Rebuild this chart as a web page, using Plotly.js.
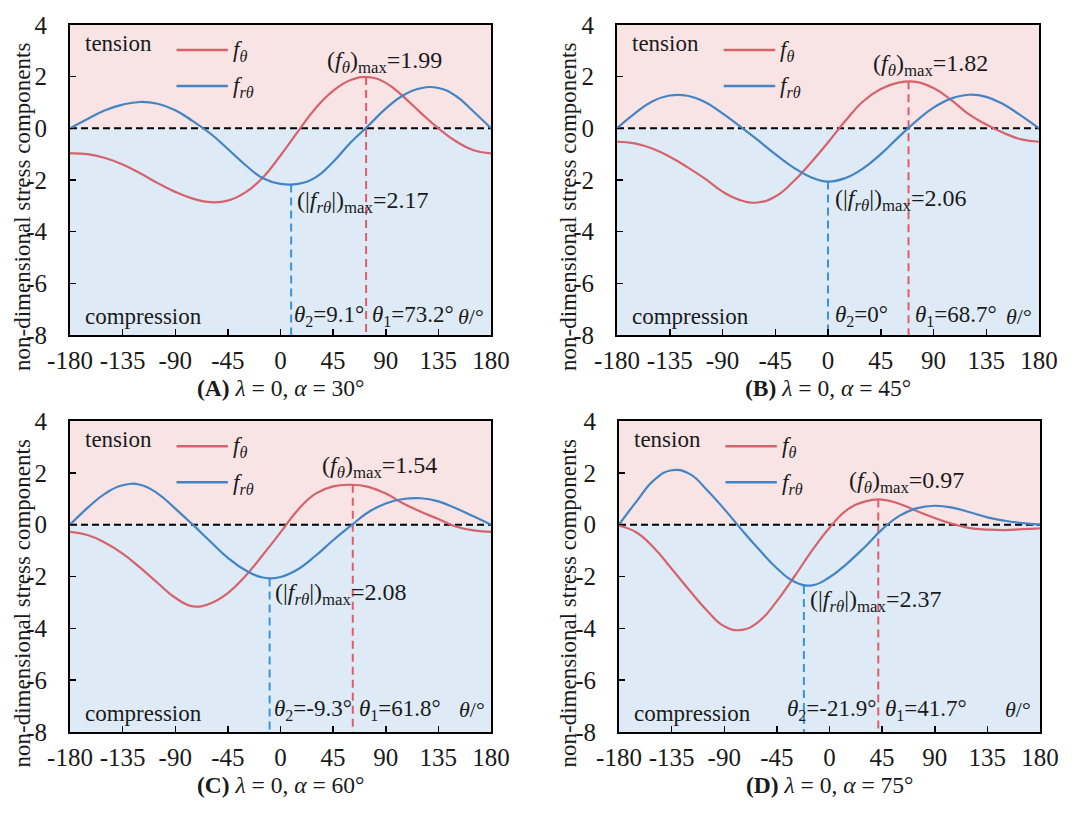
<!DOCTYPE html>
<html>
<head>
<meta charset="utf-8">
<script src="https://cdn.plot.ly/plotly-3.0.1.min.js"></script>
<style>html,body{margin:0;padding:0;background:#fff;}#chart{width:1080px;height:816px;}</style>
</head>
<body>
<div id="chart"></div>
<script>
// ---------------- data ----------------
const theta = [-180,-165,-150,-135,-120,-105,-90,-75,-60,-45,-30,-15,0,15,30,45,60,75,90,105,120,135,150,165,180];
const xTicks = [-180,-135,-90,-45,0,45,90,135,180];
const yTicks = [-8,-6,-4,-2,0,2,4];

const A_ftheta  = [-0.97,-1.0,-1.15,-1.4,-1.74,-2.12,-2.46,-2.72,-2.86,-2.8,-2.48,-1.9,-1.05,-0.12,0.78,1.45,1.87,1.98,1.76,1.23,0.6,0.0,-0.5,-0.85,-0.97];
const A_frtheta = [0,0.36,0.7,0.92,1.02,0.95,0.7,0.28,-0.2,-0.8,-1.42,-1.93,-2.15,-2.15,-1.9,-1.3,-0.55,0.1,0.76,1.28,1.55,1.56,1.25,0.65,0];
const B_ftheta  = [-0.52,-0.58,-0.78,-1.1,-1.5,-1.95,-2.45,-2.78,-2.87,-2.64,-2.08,-1.35,-0.55,0.3,1.05,1.52,1.77,1.8,1.56,1.1,0.55,0.15,-0.18,-0.43,-0.52];
const B_frtheta = [0,0.57,1.04,1.27,1.26,1.02,0.58,0.08,-0.45,-1.0,-1.5,-1.88,-2.06,-1.92,-1.55,-1.0,-0.35,0.27,0.8,1.15,1.3,1.22,0.92,0.48,0];
const C_ftheta  = [-0.28,-0.4,-0.7,-1.12,-1.66,-2.25,-2.82,-3.15,-3.04,-2.64,-1.98,-1.16,-0.3,0.58,1.2,1.48,1.54,1.46,1.2,0.82,0.5,0.22,-0.07,-0.22,-0.28];
const C_frtheta = [0,0.65,1.2,1.52,1.54,1.2,0.62,0.0,-0.65,-1.28,-1.76,-2.04,-2.02,-1.72,-1.2,-0.6,-0.05,0.48,0.82,0.99,1.02,0.9,0.63,0.32,0];
const D_ftheta  = [-0.04,-0.3,-0.9,-1.7,-2.52,-3.3,-3.92,-4.06,-3.72,-2.95,-2.0,-1.0,-0.12,0.57,0.89,0.97,0.8,0.52,0.26,0.03,-0.13,-0.19,-0.21,-0.17,-0.14];
const D_frtheta = [0,0.9,1.72,2.1,1.97,1.35,0.6,-0.2,-0.97,-1.68,-2.2,-2.34,-2.03,-1.5,-0.87,-0.18,0.35,0.64,0.73,0.66,0.48,0.28,0.15,0.06,0];

const panelLetters = ['A','B','C','D'];
const alphas = [30,45,60,75];
const lambdas = [0,0,0,0];
const theta1 = [73.2,68.7,61.8,41.7];
const fthetaMax = [1.99,1.82,1.54,0.97];
const theta2 = [9.1,0,-9.3,-21.9];
const frthetaMax = [2.17,2.06,2.08,2.37];

const fthetaSeries = [A_ftheta,B_ftheta,C_ftheta,D_ftheta];
const frthetaSeries = [A_frtheta,B_frtheta,C_frtheta,D_frtheta];

// ---------------- layout helpers ----------------
const W = 1080, H = 816;
const boxes = [ // plot area pixel boxes [left,right,top,bottom]
  [70,491,25,335],[617,1039,25,335],
  [70,491,421,732],[619,1040,421,732]
];
// label anchor positions (axis coordinates)
const labelPos = [
  {fmax:[38.1,2.57], fr:[12.4,-2.84], t2:[10.2,-7.27], t1:[76.8,-7.27], tu:175.8, low:-7.27},
  {fmax:[36.3,2.45], fr:[3.9,-2.77],  t2:[3.9,-7.27],  t1:[72.3,-7.27], tu:175.7, low:-7.27},
  {fmax:[33.8,2.22], fr:[-6.4,-2.66], t2:[-7.3,-7.15], t1:[65.4,-7.15], tu:176.6, low:-7.15},
  {fmax:[15.0,1.64], fr:[-18.4,-2.93],t2:[-38,-7.15],  t1:[45.8,-7.15], tu:174.0, low:-7.15}
];
const FONT = 'Liberation Serif, Times New Roman, serif';
const TXT = '#1a1a1a';
const RED = 'rgb(214,98,106)';
const BLUE = 'rgb(66,132,196)';
const RED_D = 'rgb(224,92,104)';
const BLUE_D = 'rgb(58,148,218)';
const PINK_BG = 'rgb(249,228,229)';
const BLUE_BG = 'rgb(222,235,247)';

const data = [];
const layout = {
  width: W, height: H,
  margin: {l:0,r:0,t:0,b:0},
  paper_bgcolor: '#ffffff',
  plot_bgcolor: 'rgba(0,0,0,0)',
  showlegend: false,
  font: {family: FONT, size: 23, color: TXT},
  shapes: [], annotations: []
};

for (let i = 0; i < 4; i++) {
  const n = i === 0 ? '' : String(i + 1);
  const xa = 'x' + n, ya = 'y' + n;
  const b = boxes[i];
  layout['xaxis' + n] = {
    domain: [b[0] / W, b[1] / W], anchor: ya,
    range: [-180, 180], tickvals: xTicks, ticktext: xTicks.map(String),
    ticks: 'inside', ticklen: 6, tickwidth: 1.5, tickcolor: '#000',
    showline: true, linecolor: '#000', linewidth: 2, mirror: true,
    showgrid: false, zeroline: false,
    tickfont: {family: FONT, size: 25, color: TXT},
    ticklabelstandoff: 2, fixedrange: true
  };
  layout['yaxis' + n] = {
    domain: [1 - b[3] / H, 1 - b[2] / H], anchor: xa,
    range: [-8, 4], tickvals: yTicks, ticktext: yTicks.map(String),
    ticks: 'inside', ticklen: 6, tickwidth: 1.5, tickcolor: '#000',
    showline: true, linecolor: '#000', linewidth: 2, mirror: true,
    showgrid: false, zeroline: false,
    tickfont: {family: FONT, size: 25, color: TXT},
    ticklabelstandoff: 16, fixedrange: true
  };

  // backgrounds
  layout.shapes.push({type:'rect', xref: xa + ' domain', yref: ya, x0:0, x1:1, y0:0, y1:4, fillcolor: PINK_BG, line:{width:0}, layer:'below'});
  layout.shapes.push({type:'rect', xref: xa + ' domain', yref: ya, x0:0, x1:1, y0:-8, y1:0, fillcolor: BLUE_BG, line:{width:0}, layer:'below'});
  // zero line
  layout.shapes.push({type:'line', xref: xa + ' domain', yref: ya, x0:0, x1:1, y0:0, y1:0, line:{color:'#000', width:2, dash:'7px,4px'}, layer:'below'});
  // legend samples
  layout.shapes.push({type:'line', xref: xa + ' domain', yref: ya + ' domain', x0:0.253, x1:0.375, y0:0.919, y1:0.919, line:{color:RED, width:2.5}});
  layout.shapes.push({type:'line', xref: xa + ' domain', yref: ya + ' domain', x0:0.253, x1:0.375, y0:0.803, y1:0.803, line:{color:BLUE, width:2.5}});

  // vertical dashed markers
  data.push({x:[theta1[i], theta1[i]], y:[fthetaMax[i], -8], xaxis: xa, yaxis: ya, mode:'lines', line:{color:RED_D, width:2, dash:'8px,5px'}, hoverinfo:'skip'});
  data.push({x:[theta2[i], theta2[i]], y:[-frthetaMax[i], -8], xaxis: xa, yaxis: ya, mode:'lines', line:{color:BLUE_D, width:2, dash:'8px,5px'}, hoverinfo:'skip'});
  // curves
  data.push({x: theta, y: fthetaSeries[i], xaxis: xa, yaxis: ya, mode:'lines', name:'f_theta', line:{color:RED, width:2.2, shape:'spline', smoothing:1.3}});
  data.push({x: theta, y: frthetaSeries[i], xaxis: xa, yaxis: ya, mode:'lines', name:'f_rtheta', line:{color:BLUE, width:2.2, shape:'spline', smoothing:1.3}});

  const lp = labelPos[i];
  const ann = (o) => layout.annotations.push(Object.assign({showarrow:false, font:{family:FONT, size:23, color:TXT}}, o));
  ann({xref: xa + ' domain', yref: ya + ' domain', x:0.031, y:0.939, xanchor:'left', yanchor:'middle', text:'tension'});
  ann({xref: xa + ' domain', yref: ya + ' domain', x:0.031, y:0.061, xanchor:'left', yanchor:'middle', text:'compression'});
  ann({xref: xa + ' domain', yref: ya + ' domain', x:0.382, y:0.915, xanchor:'left', yanchor:'middle', text:'<i>f</i><sub><i>θ</i></sub>'});
  ann({xref: xa + ' domain', yref: ya + ' domain', x:0.382, y:0.799, xanchor:'left', yanchor:'middle', text:'<i>f</i><sub><i>rθ</i></sub>'});
  ann({xref: xa, yref: ya, x: lp.fmax[0], y: lp.fmax[1], xanchor:'left', yanchor:'middle', text:'(<i>f</i><sub><i>θ</i></sub>)<sub>max</sub>=' + fthetaMax[i].toFixed(2), font:{family:FONT, size:24, color:TXT}});
  ann({xref: xa, yref: ya, x: lp.fr[0], y: lp.fr[1], xanchor:'left', yanchor:'middle', text:'(|<i>f</i><sub><i>rθ</i></sub>|)<sub>max</sub>=' + frthetaMax[i].toFixed(2), font:{family:FONT, size:24, color:TXT}});
  ann({xref: xa, yref: ya, x: lp.t2[0], y: lp.t2[1], xanchor:'left', yanchor:'middle', text:'<i>θ</i><sub>2</sub>=' + theta2[i] + '°'});
  ann({xref: xa, yref: ya, x: lp.t1[0], y: lp.t1[1], xanchor:'left', yanchor:'middle', text:'<i>θ</i><sub>1</sub>=' + theta1[i] + '°'});
  ann({xref: xa, yref: ya, x: lp.tu, y: lp.low, xanchor:'right', yanchor:'middle', text:'<i>θ</i>/°', font:{family:FONT, size:22, color:TXT}});

  // subtitle
  const cx = (b[0] + b[1]) / 2 / W;
  const sy = 1 - (b[3] + 53) / H;
  ann({xref:'paper', yref:'paper', x: cx, y: sy, xanchor:'center', yanchor:'middle',
       text:'<b>(' + panelLetters[i] + ')</b> <i>λ</i> = ' + lambdas[i] + ', <i>α</i> = ' + alphas[i] + '°',
       font:{family:FONT, size:23.5, color:TXT}});
  // y title
  const tx = (i % 2 === 0 ? 22 : 568) / W;
  const ty = 1 - ((b[2] + b[3]) / 2 + 27) / H;
  ann({xref:'paper', yref:'paper', x: tx, y: ty, xanchor:'center', yanchor:'middle', textangle:-90,
       text:'non-dimensional stress components', font:{family:FONT, size:23, color:TXT}});
}

Plotly.newPlot('chart', data, layout, {staticPlot:true, displayModeBar:false});
</script>
</body>
</html>
